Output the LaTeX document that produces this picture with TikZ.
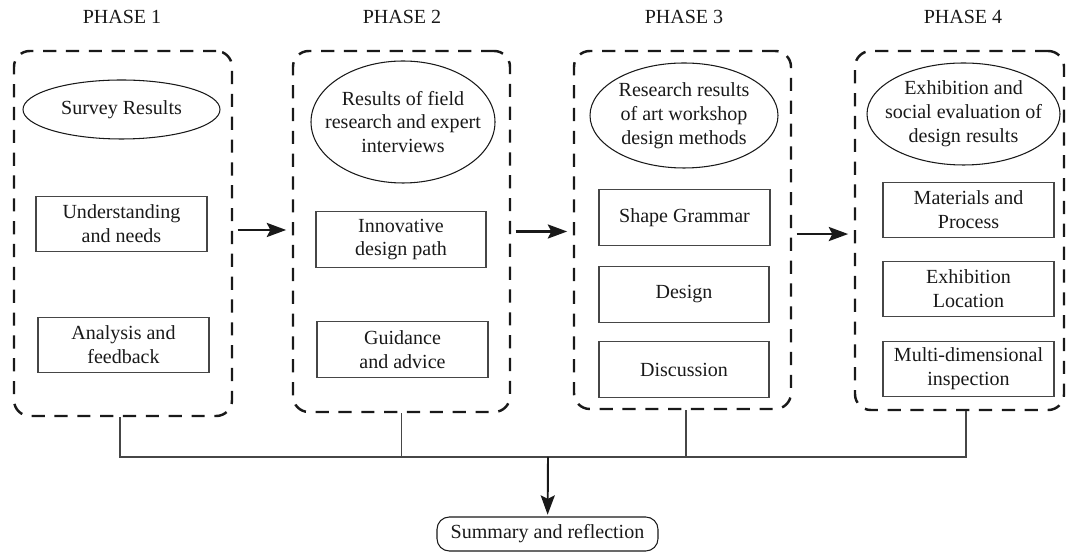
\documentclass[tikz,border=0pt]{standalone}
\usepackage{fontspec}
\setmainfont{Liberation Serif}
\definecolor{inkdark}{RGB}{25,25,25}
\definecolor{linegray}{RGB}{70,70,70}
\usetikzlibrary{arrows.meta, positioning, calc, shapes.geometric}
\tikzset{
  phbox/.style 2 args={draw=inkdark, dash pattern=on 7.5pt off 5.5pt, line width=1.4pt,
               rounded corners=9pt, minimum width=#1, minimum height=#2},
  ovl/.style 2 args={draw=inkdark, ellipse, line width=0.6pt, inner sep=0pt,
               minimum width=#1, minimum height=#2},
  bx/.style={draw=linegray, line width=0.6pt, minimum width=#1, minimum height=1.11cm,
               align=center, inner sep=0pt},
  sumbx/.style={draw=inkdark, line width=0.6pt, rounded corners=7pt,
               minimum width=4.42cm, minimum height=0.68cm},
  ttl/.style={inner sep=0pt},
  arr/.style={-{Stealth[length=11pt, width=8pt, inset=2pt]}, line width=1.4pt, draw=inkdark},
  bus/.style={draw=linegray, line width=0.6pt},
}

\begin{document}
\begin{tikzpicture}[every node/.style={font=\fontsize{11.4}{13.6}\selectfont, text=inkdark}]
    \useasboundingbox (0,0) rectangle (21.34,11.06);

    % phase titles
    \node[ttl] (t1) at (2.44,  10.72) {PHASE 1};
    \node[ttl] (t2) at (8.04,  10.72) {PHASE 2};
    \node[ttl] (t3) at (13.68, 10.72) {PHASE 3};
    \node[ttl] (t4) at (19.26, 10.72) {PHASE 4};

    % dashed frames
    \node[phbox={4.36cm}{7.30cm}] (p1) at (2.46,  6.39) {};
    \node[phbox={4.34cm}{7.22cm}] (p2) at (8.03,  6.43) {};
    \node[phbox={4.34cm}{7.16cm}] (p3) at (13.65, 6.46) {};
    \node[phbox={4.18cm}{7.18cm}] (p4) at (19.19, 6.45) {};

    % ellipses
    \node[ovl={3.94cm}{1.18cm}, label={[align=center]center:Survey Results}] (e1) at (2.43, 8.87) {};
    \node[ovl={3.68cm}{2.44cm}, label={[align=center]center:{Results of field\\research and expert\\interviews}}] (e2) at (8.06, 8.62) {};
    \node[ovl={3.76cm}{2.10cm}, label={[align=center]center:{Research results\\of art workshop\\design methods}}] (e3) at (13.68, 8.75) {};
    \node[ovl={3.86cm}{2.04cm}, label={[align=center]center:{Exhibition and\\social evaluation of\\design results}}] (e4) at (19.27, 8.78) {};

    % inner boxes
    \node[bx=3.42cm] (r11) at (2.43,  6.58) {Understanding\\and needs};
    \node[bx=3.42cm] (r12) at (2.47,  4.16) {Analysis and\\feedback};
    \node[bx=3.40cm] (r21) at (8.02,  6.27) {Innovative\\design path};
    \node[bx=3.42cm] (r22) at (8.05,  4.07) {Guidance\\and advice};
    \node[bx=3.42cm] (r31) at (13.69, 6.71) {Shape Grammar};
    \node[bx=3.40cm] (r32) at (13.68, 5.17) {Design};
    \node[bx=3.40cm] (r33) at (13.68, 3.67) {Discussion};
    \node[bx=3.42cm] (r41) at (19.37, 6.86) {Materials and\\Process};
    \node[bx=3.42cm] (r42) at (19.37, 5.28) {Exhibition\\Location};
    \node[bx=3.42cm] (r43) at (19.37, 3.68) {Multi-dimensional\\inspection};

    \draw[arr, shorten <=2.5pt, shorten >=3.2pt] ([yshift=2pt]p1.east) -- ([yshift=2pt]p1.east -| p2.west);
    \draw[arr, shorten <=2.5pt, shorten >=3.2pt] (p2.east) -- (p2.east -| p3.west);
    \draw[arr, shorten <=2.5pt, shorten >=3.2pt] ([yshift=-2.3pt]p3.east) -- ([yshift=-2.3pt]p3.east -| p4.west);

    % joining line and summary
    \coordinate (jn) at (10.96, 1.92);
    \node[sumbx] (sum) at (10.95, 0.38) {Summary and reflection};
    \draw[bus] ([xshift=-0.06cm]p1.south) -- ([xshift=-0.06cm]p1.south |- jn) -- ([xshift=0.13cm]p4.south |- jn) -- ([xshift=0.13cm]p4.south);
    \draw[bus] (p2.south) -- (p2.south |- jn);
    \draw[bus] ([xshift=0.07cm]p3.south) -- ([xshift=0.07cm]p3.south |- jn);
    \draw[arr, line width=1.1pt, shorten >=1pt] (jn) -- (sum);
\end{tikzpicture}
\end{document}
